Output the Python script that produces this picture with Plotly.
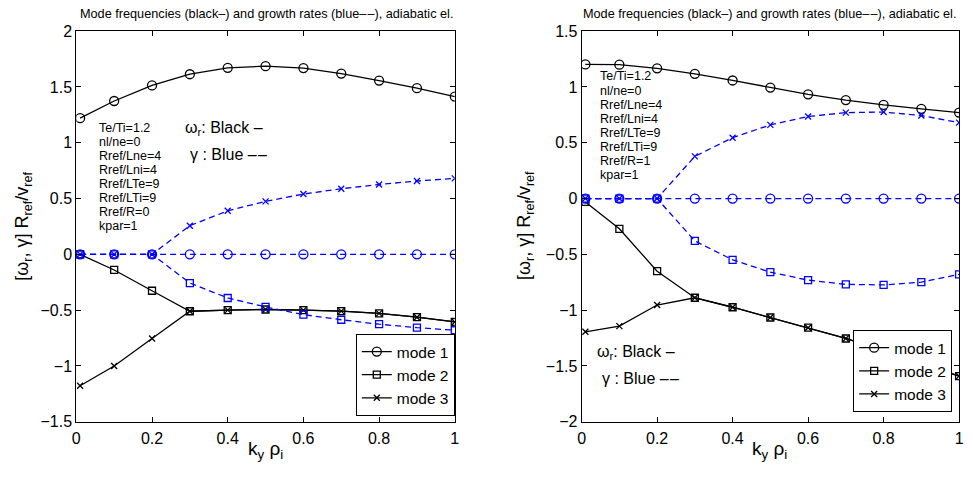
import plotly.graph_objects as go

W, H = 973, 478

# ---------------- data ----------------
ky = [0.01, 0.1, 0.2, 0.3, 0.4, 0.5, 0.6, 0.7, 0.8, 0.9, 1.0]

# left panel: Rref/R = 0
L_w1 = [1.22, 1.374, 1.514, 1.614, 1.671, 1.686, 1.669, 1.62, 1.557, 1.489, 1.414]
L_g1 = [0, 0, 0, 0, 0, 0, 0, 0, 0, 0, 0]
L_w2 = [0.0, -0.14, -0.326, -0.51, -0.5, -0.494, -0.5, -0.509, -0.529, -0.563, -0.606]
L_g2 = [0, 0, 0, -0.257, -0.391, -0.471, -0.54, -0.586, -0.626, -0.657, -0.68]
L_w3 = [-1.177, -1.0, -0.754, -0.51, -0.5, -0.494, -0.5, -0.509, -0.529, -0.563, -0.606]
L_g3 = [0, 0, 0, 0.257, 0.39, 0.475, 0.54, 0.588, 0.626, 0.657, 0.681]

# right panel: Rref/R = 1
R_w1 = [1.202, 1.2, 1.167, 1.118, 1.058, 0.994, 0.934, 0.882, 0.839, 0.804, 0.77]
R_g1 = [0, 0, 0, 0, 0, 0, 0, 0, 0, 0, 0]
R_w2 = [-0.03, -0.271, -0.651, -0.889, -0.974, -1.066, -1.157, -1.254, -1.365, -1.478, -1.591]
R_g2 = [0, 0, 0, -0.38, -0.549, -0.66, -0.731, -0.769, -0.774, -0.749, -0.68]
R_w3 = [-1.194, -1.143, -0.954, -0.889, -0.974, -1.066, -1.157, -1.254, -1.365, -1.478, -1.591]
R_g3 = [0, 0, 0, 0.378, 0.545, 0.66, 0.735, 0.77, 0.775, 0.744, 0.68]

mode_names = ["mode 1", "mode 2", "mode 3"]
x_ticks = [0, 0.2, 0.4, 0.6, 0.8, 1]
x_ticklabels = ["0", "0.2", "0.4", "0.6", "0.8", "1"]
L_yticks = [-1.5, -1, -0.5, 0, 0.5, 1, 1.5, 2]
R_yticks = [-2, -1.5, -1, -0.5, 0, 0.5, 1, 1.5]

L_params = ["Te/Ti=1.2", "nl/ne=0", "Rref/Lne=4", "Rref/Lni=4", "Rref/LTe=9",
            "Rref/LTi=9", "Rref/R=0", "kpar=1"]
R_params = ["Te/Ti=1.2", "nl/ne=0", "Rref/Lne=4", "Rref/Lni=4", "Rref/LTe=9",
            "Rref/LTi=9", "Rref/R=1", "kpar=1"]

DD = "\u2013\u200a\u2013"
title_text = "Mode frequencies (black\u2013) and growth rates (blue" + DD + "), adiabatic el."

# ---------------- helpers ----------------
def px(x):
    return x / W

def py(y):
    return 1 - y / H

FONT = "Liberation Sans, Arial, Helvetica, sans-serif"
BLUE = "rgb(0,0,255)"
symbols = ["circle-open", "square-open", "x-thin-open"]
sizes = [9, 7, 6]

fig = go.Figure()

def add_panel(xa, ya, legend, w_list, g_list):
    for i, (w, sym, sz) in enumerate(zip(w_list, symbols, sizes)):
        fig.add_trace(go.Scatter(
            x=ky, y=w, mode="lines+markers", name=mode_names[i],
            xaxis=xa, yaxis=ya, legend=legend, legendgroup=legend + str(i),
            line=dict(color="black", width=1.3),
            marker=dict(symbol=sym, size=sz, color="black",
                        line=dict(color="black", width=1.3)),
            showlegend=True))
    for i, (g, sym, sz) in enumerate(zip(g_list, symbols, sizes)):
        fig.add_trace(go.Scatter(
            x=ky, y=g, mode="lines+markers", name=mode_names[i],
            xaxis=xa, yaxis=ya,
            line=dict(color=BLUE, width=1.3, dash="6px,4px"),
            marker=dict(symbol=sym, size=sz, color=BLUE,
                        line=dict(color=BLUE, width=1.3)),
            showlegend=False))

add_panel("x", "y", "legend", [L_w1, L_w2, L_w3], [L_g1, L_g2, L_g3])
add_panel("x2", "y2", "legend2", [R_w1, R_w2, R_w3], [R_g1, R_g2, R_g3])

axis_common = dict(showline=True, linecolor="black", linewidth=1, mirror="ticks",
                   ticks="inside", ticklen=5, tickcolor="black", showgrid=False,
                   zeroline=False, tickfont=dict(family=FONT, size=16, color="black"))

L_dom = [px(73), px(455)]
R_dom = [px(583), px(964)]
Y_dom = [py(429), py(24)]

legend_common = dict(xanchor="right", yanchor="bottom",
                     bordercolor="black", borderwidth=1, bgcolor="white",
                     font=dict(family=FONT, size=15.5, color="black"),
                     tracegroupgap=0, itemwidth=30)

fig.update_layout(
    width=W, height=H, margin=dict(l=0, r=0, t=0, b=0),
    paper_bgcolor="white", plot_bgcolor="white",
    font=dict(family=FONT, color="black"),
    xaxis=dict(domain=L_dom, anchor="y", range=[0, 1], tickvals=x_ticks,
               ticktext=x_ticklabels, ticklabelstandoff=2, **axis_common),
    yaxis=dict(domain=Y_dom, anchor="x", range=[-1.5, 2], tickvals=L_yticks, **axis_common),
    xaxis2=dict(domain=R_dom, anchor="y2", range=[0, 1], tickvals=x_ticks,
                ticktext=x_ticklabels, ticklabelstandoff=2, **axis_common),
    yaxis2=dict(domain=Y_dom, anchor="x2", range=[-2, 1.5], tickvals=R_yticks, **axis_common),
    legend=dict(x=px(455), y=py(423), **legend_common),
    legend2=dict(x=px(957), y=py(419), **legend_common),
)

ann = []
# titles
for cx in [265, 773]:
    ann.append(dict(x=px(cx), y=py(6), xref="paper", yref="paper", text=title_text,
                    showarrow=False, xanchor="center", yanchor="middle",
                    font=dict(family=FONT, size=12.7, color="black")))
# y labels
for cx in [20, 527]:
    ann.append(dict(x=px(cx), y=py(226), xref="paper", yref="paper",
                    text="[\u03c9<sub>r</sub>, \u03b3] R<sub>ref</sub>/v<sub>ref</sub>",
                    textangle=-90, showarrow=False, xanchor="center", yanchor="middle",
                    font=dict(family=FONT, size=18, color="black")))
# x labels
for cx in [264, 773]:
    ann.append(dict(x=px(cx), y=py(458), xref="paper", yref="paper",
                    text="k<sub>y</sub> \u03c1<sub>i</sub>",
                    showarrow=False, xanchor="center", yanchor="middle",
                    font=dict(family=FONT, size=19, color="black")))
# parameter blocks
for (x0, y0, params) in [(94, 124, L_params), (600, 71, R_params)]:
    for k, t in enumerate(params):
        ann.append(dict(x=px(x0), y=py(y0 + k * 14.6), xref="paper", yref="paper",
                        text=t, showarrow=False, xanchor="left", yanchor="middle",
                        font=dict(family=FONT, size=12.5, color="black")))
# omega/gamma keys
for (x0, y0) in [(181, 125), (597, 357)]:
    ann.append(dict(x=px(x0), y=py(y0), xref="paper", yref="paper",
                    text="\u03c9<sub>r</sub>: Black \u2013", showarrow=False,
                    xanchor="left", yanchor="middle",
                    font=dict(family=FONT, size=16, color="black")))
    ann.append(dict(x=px(x0 + 5), y=py(y0 + 27), xref="paper", yref="paper",
                    text="\u03b3 : Blue " + DD, showarrow=False,
                    xanchor="left", yanchor="middle",
                    font=dict(family=FONT, size=16, color="black")))

fig.update_layout(annotations=ann)
fig.write_html("out.html")
